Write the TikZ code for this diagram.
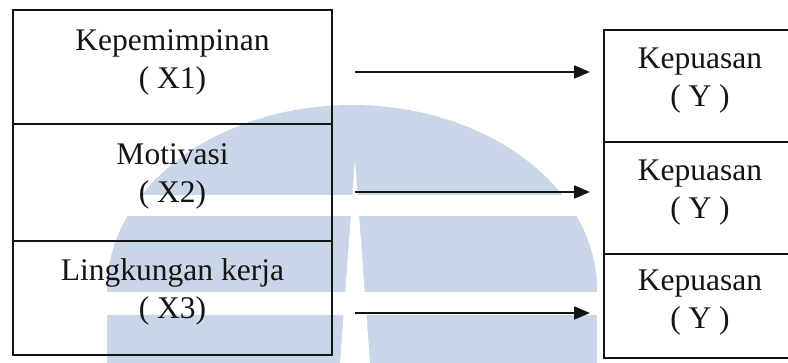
\documentclass[tikz,border=0pt]{standalone}
\usepackage{fontspec}
\setmainfont{Liberation Serif}
\usetikzlibrary{arrows.meta}
\definecolor{emblemblue}{RGB}{201,214,232}
\definecolor{ink}{RGB}{20,20,20}
\begin{document}
\begin{tikzpicture}[x=1pt,y=-1pt,
  cell/.style={draw=ink, line width=2.2pt, inner sep=0pt},
  lbl/.style={align=center, text=ink, inner sep=0pt,
    font=\fontsize{31.5}{38}\selectfont},
  link/.style={draw=ink, line width=2pt, -{Triangle[length=16pt,width=13pt]}}]
\useasboundingbox (0,0) rectangle (788,363);
\clip (0,0) rectangle (788,363);
\fill[white] (0,0) rectangle (788,363);

% background emblem: a dome with straight sides, cut by two bands and a spike
\fill[emblemblue] (352,290) ellipse[x radius=245, y radius=185];
\fill[emblemblue] (107,290) rectangle (597,363);
\fill[white] (0,195) rectangle (788,216);
\fill[white] (0,292) rectangle (788,315);
\fill[white] (355,160) -- (340,363) -- (370,363) -- cycle;

% independent variables
\node[cell, minimum width=319pt, minimum height=114pt] (x1) at (172.5,67) {};
\node[cell, minimum width=319pt, minimum height=117pt] (x2) at (172.5,182.5) {};
\node[cell, minimum width=319pt, minimum height=114pt] (x3) at (172.5,298) {};
\node[lbl] (tx1) at (172.5,62) {Kepemimpinan\\( X1)};
\node[lbl] (tx2) at (172.5,176) {Motivasi\\( X2)};
\node[lbl] (tx3) at (172.5,292) {Lingkungan kerja\\( X3)};

% dependent variable
\node[cell, minimum width=200pt, minimum height=112pt] (y1) at (704,86) {};
\node[cell, minimum width=200pt, minimum height=112pt] (y2) at (704,198) {};
\node[cell, minimum width=200pt, minimum height=104pt] (y3) at (704,306) {};
\node[lbl] (ty1) at (700,81) {Kepuasan\\( Y )};
\node[lbl] (ty2) at (700,193) {Kepuasan\\( Y )};
\node[lbl] (ty3) at (700,303) {Kepuasan\\( Y )};

% arrows
\coordinate (a1) at (355,72);  \coordinate (b1) at (590,72);
\coordinate (a2) at (355,192); \coordinate (b2) at (590,192);
\coordinate (a3) at (355,313); \coordinate (b3) at (590,313);
\draw[link] (a1) -- (b1);
\draw[link] (a2) -- (b2);
\draw[link] (a3) -- (b3);
\end{tikzpicture}
\end{document}
